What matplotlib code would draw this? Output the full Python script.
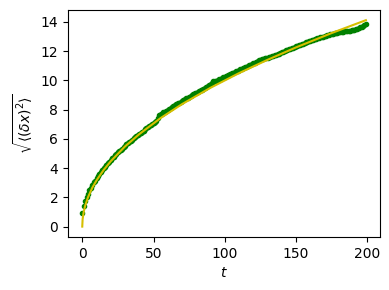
import numpy as np
import matplotlib
matplotlib.use("Agg")
import matplotlib.pyplot as plt

# measured root-mean-square displacement (green dots), t = 0..199
msd_root = [
    0.95, 1.40, 1.72, 2.02, 2.22, 2.47, 2.62, 2.85, 3.02, 3.14,
    3.33, 3.47, 3.58, 3.73, 3.86, 3.98, 4.10, 4.22, 4.33, 4.45,
    4.55, 4.66, 4.75, 4.87, 4.96, 5.07, 5.15, 5.25, 5.33, 5.44,
    5.53, 5.64, 5.72, 5.80, 5.86, 5.95, 6.04, 6.10, 6.18, 6.27,
    6.33, 6.42, 6.50, 6.56, 6.65, 6.74, 6.80, 6.86, 6.94, 7.01,
    7.08, 7.14, 7.24, 7.42, 7.60, 7.68, 7.73, 7.80, 7.86, 7.92,
    7.98, 8.04, 8.10, 8.17, 8.24, 8.30, 8.37, 8.42, 8.47, 8.53,
    8.57, 8.64, 8.70, 8.77, 8.82, 8.87, 8.94, 8.99, 9.04, 9.10,
    9.15, 9.21, 9.26, 9.32, 9.37, 9.44, 9.49, 9.54, 9.60, 9.66,
    9.73, 9.82, 9.93, 9.96, 9.98, 10.02, 10.06, 10.10, 10.14, 10.20,
    10.23, 10.27, 10.33, 10.37, 10.42, 10.48, 10.52, 10.57, 10.62, 10.67,
    10.71, 10.75, 10.80, 10.86, 10.90, 10.94, 10.98, 11.03, 11.08, 11.12,
    11.16, 11.21, 11.27, 11.34, 11.40, 11.42, 11.44, 11.47, 11.50, 11.53,
    11.55, 11.57, 11.60, 11.64, 11.67, 11.71, 11.75, 11.79, 11.83, 11.88,
    11.92, 11.96, 12.01, 12.04, 12.08, 12.12, 12.15, 12.19, 12.23, 12.27,
    12.32, 12.36, 12.39, 12.43, 12.48, 12.51, 12.55, 12.59, 12.63, 12.66,
    12.70, 12.73, 12.77, 12.80, 12.84, 12.87, 12.90, 12.93, 12.96, 12.99,
    13.02, 13.05, 13.08, 13.11, 13.14, 13.16, 13.19, 13.21, 13.23, 13.25,
    13.27, 13.29, 13.30, 13.32, 13.34, 13.35, 13.37, 13.39, 13.40, 13.42,
    13.44, 13.47, 13.50, 13.53, 13.58, 13.62, 13.66, 13.72, 13.78, 13.84,
]
t_data = list(range(len(msd_root)))

# reference curve (yellow line), read at selected times
t_fit = [0, 0.25, 1, 2, 4, 7, 10, 15, 20, 30, 40, 55, 70, 90, 110, 130, 150, 175, 199]
fit_vals = [0.0, 0.5, 1.0, 1.41, 2.0, 2.65, 3.16, 3.87, 4.47, 5.48, 6.32,
            7.42, 8.37, 9.49, 10.49, 11.40, 12.25, 13.23, 14.11]

fig = plt.figure(figsize=(3.89, 2.90), dpi=100)
ax = fig.add_axes([0.175, 0.183, 0.802, 0.783])
ax.plot(t_data, msd_root, 'g.')
ax.plot(t_fit, fit_vals, color='#d6bf00', lw=1.5)
ax.set_xlabel(r'$t$')
ax.set_ylabel(r'$\sqrt{\langle(\delta x)^2\rangle}$')
ax.set_xticks([0, 50, 100, 150, 200])
ax.set_yticks([0, 2, 4, 6, 8, 10, 12, 14])
fig.savefig('out.png', dpi=100)
